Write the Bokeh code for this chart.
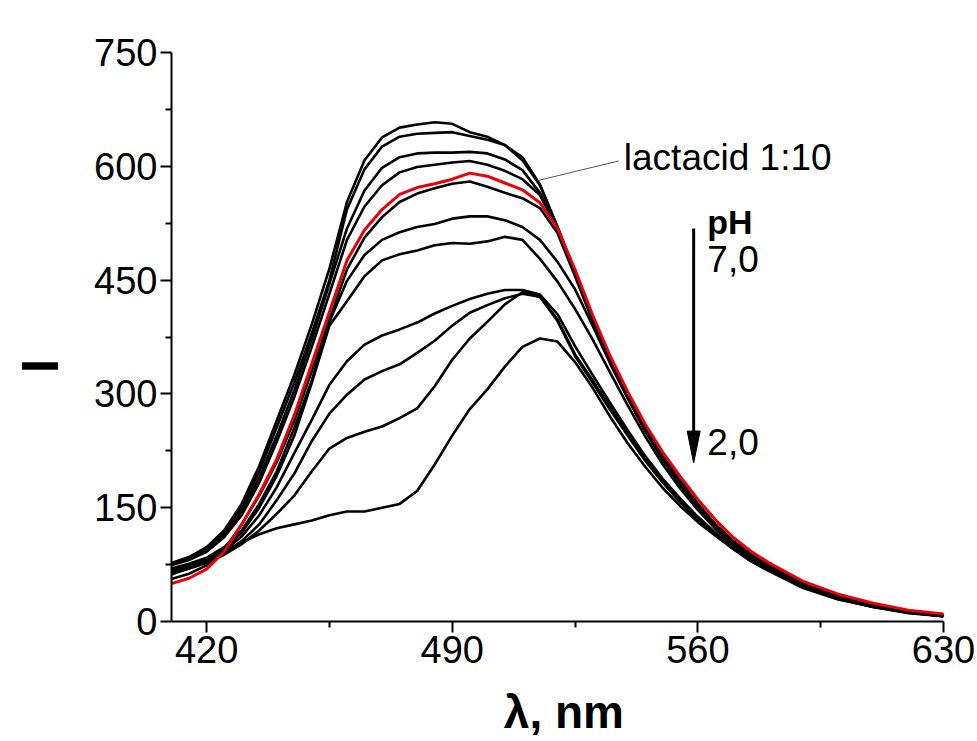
from bokeh.plotting import figure
from bokeh.models import FixedTicker, Label, Range1d
from bokeh.embed import file_html
from bokeh.resources import INLINE

# ---- data ----
wavelength = [410, 415, 420, 425, 430, 435, 440, 445, 450, 455, 460, 465, 470, 475, 480,
              485, 490, 495, 500, 505, 510, 515, 520, 525, 530, 535, 540, 545, 550, 555,
              560, 565, 570, 575, 580, 590, 600, 610, 620, 630]

curve_1 = [77, 85, 98, 120, 155, 205, 265, 325, 392, 465, 553, 608, 638, 651, 655,
           658, 656, 645, 639, 628, 612, 576, 520, 460, 400, 345, 298, 254, 217, 185,
           155, 128, 106, 89, 74, 50, 34, 22, 14, 9]
curve_2 = [76, 84, 96, 117, 150, 198, 256, 315, 380, 450, 543, 596, 626, 639, 643,
           644, 645, 640, 635, 628, 608, 575, 520, 460, 400, 345, 298, 254, 217, 185,
           155, 128, 106, 89, 74, 50, 34, 22, 14, 9]
curve_3 = [75, 82, 94, 114, 145, 190, 245, 305, 372, 445, 518, 568, 598, 612, 617,
           618, 618, 619, 617, 609, 595, 565, 518, 459, 399, 344, 297, 253, 216, 184,
           154, 127, 105, 88, 73, 49, 33, 22, 14, 9]
curve_4 = [74, 81, 92, 111, 140, 183, 237, 296, 362, 432, 503, 547, 575, 592, 599,
           602, 605, 607, 602, 594, 583, 562, 517, 458, 398, 343, 296, 252, 215, 183,
           153, 126, 104, 87, 72, 49, 33, 21, 13, 9]
curve_lactacid = [50, 57, 69, 92, 128, 168, 214, 272, 340, 408, 476, 516, 543, 563, 572,
                  577, 583, 591, 587, 578, 569, 552, 518, 464, 404, 350, 303, 260, 223, 191,
                  161, 134, 111, 93, 78, 53, 36, 24, 15, 10]
curve_6 = [56, 63, 74, 95, 128, 166, 210, 265, 330, 398, 464, 506, 533, 553, 564,
           571, 577, 580, 573, 565, 558, 545, 512, 455, 396, 342, 295, 252, 214, 182,
           152, 126, 104, 87, 73, 49, 33, 21, 13, 8]
curve_7 = [70, 76, 84, 98, 120, 155, 198, 255, 318, 395, 449, 483, 503, 513, 520,
           524, 531, 534, 534, 529, 520, 503, 474, 438, 390, 340, 294, 251, 213, 180,
           151, 125, 103, 86, 72, 48, 32, 21, 13, 8]
curve_8 = [68, 74, 82, 96, 117, 150, 192, 245, 315, 390, 422, 455, 476, 484, 489,
           496, 499, 498, 501, 507, 503, 478, 448, 412, 372, 328, 285, 244, 207, 175,
           147, 122, 101, 84, 71, 47, 31, 20, 12, 8]
curve_9 = [66, 72, 80, 93, 112, 140, 177, 222, 266, 312, 343, 365, 377, 385, 394,
           406, 416, 425, 432, 437, 437, 431, 405, 363, 325, 288, 252, 218, 188, 162,
           138, 117, 98, 82, 69, 46, 30, 20, 12, 7]
curve_10 = [64, 70, 78, 90, 106, 128, 160, 195, 238, 274, 299, 319, 330, 339, 354,
            370, 390, 407, 417, 426, 432, 428, 398, 352, 318, 282, 247, 214, 185, 159,
            136, 115, 97, 81, 68, 46, 30, 19, 12, 7]
curve_11 = [64, 70, 77, 88, 102, 120, 142, 166, 198, 228, 242, 250, 257, 268, 281,
            310, 345, 373, 395, 418, 434, 428, 396, 350, 315, 279, 245, 212, 183, 157,
            134, 114, 96, 80, 68, 45, 30, 19, 12, 7]
curve_12 = [62, 70, 80, 92, 104, 115, 123, 128, 133, 140, 145, 145, 150, 155, 172,
            207, 245, 280, 306, 336, 362, 373, 369, 342, 308, 270, 235, 204, 176, 152,
            131, 113, 96, 80, 67, 44, 29, 19, 11, 7]

black_curves = [curve_1, curve_2, curve_3, curve_4, curve_6, curve_7, curve_8,
                curve_9, curve_10, curve_11, curve_12]

x_ticks = [420, 490, 560, 630]
x_minor = [455, 525, 595]
y_ticks = [0, 150, 300, 450, 600, 750]
y_minor = [75, 225, 375, 525, 675]

FONT = "Liberation Sans"
NBSP = "\u00a0"

p = figure(width=975, height=741, x_range=Range1d(410, 630), y_range=Range1d(0, 750),
           output_backend="svg", toolbar_location=None,
           min_border_left=171, min_border_right=32, min_border_top=52, min_border_bottom=120)
p.xgrid.visible = False
p.ygrid.visible = False
p.outline_line_color = None
p.background_fill_color = "white"
p.border_fill_color = "white"

for ax in (p.xaxis[0], p.yaxis[0]):
    ax.axis_line_width = 2
    ax.axis_line_color = "black"
    ax.major_tick_line_width = 2
    ax.minor_tick_line_width = 2
    ax.major_tick_line_color = "black"
    ax.minor_tick_line_color = "black"
    ax.major_tick_out = 11
    ax.major_tick_in = 0
    ax.minor_tick_out = 6
    ax.minor_tick_in = 0
    ax.major_label_text_font = FONT
    ax.major_label_text_font_size = "38px"
    ax.major_label_text_color = "black"
    ax.major_label_standoff = 3

p.xaxis.ticker = FixedTicker(ticks=x_ticks, minor_ticks=x_minor)
p.yaxis.ticker = FixedTicker(ticks=y_ticks, minor_ticks=y_minor)

p.xaxis.axis_label = NBSP + "λ, nm"
p.xaxis.axis_label_text_font = FONT
p.xaxis.axis_label_text_font_size = "46px"
p.xaxis.axis_label_text_font_style = "bold"
p.xaxis.axis_label_text_color = "black"
p.xaxis.axis_label_standoff = 20

p.yaxis.axis_label = "I" + NBSP * 4
p.yaxis.axis_label_text_font = FONT
p.yaxis.axis_label_text_font_size = "52px"
p.yaxis.axis_label_text_font_style = "bold"
p.yaxis.axis_label_text_color = "black"
p.yaxis.axis_label_standoff = 22

for ys in black_curves:
    p.line(wavelength, ys, line_color="black", line_width=2.6, line_join="round")
p.line(wavelength, curve_lactacid, line_color="#e8000b", line_width=3, line_join="round")

# leader line + annotation
LEAD_X0, LEAD_Y0, LEAD_X1, LEAD_Y1 = 514.2, 581, 537.4, 607
p.segment(x0=[LEAD_X0], y0=[LEAD_Y0], x1=[LEAD_X1], y1=[LEAD_Y1], line_color="#555555", line_width=1)
p.add_layout(Label(x=538.9, y=611, text="lactacid 1:10", text_align="left",
                   text_baseline="alphabetic", text_font=FONT, text_font_size="37px",
                   text_color="black"))

# pH arrow
ARROW_X, ARROW_TOP, ARROW_TIP = 558.8, 518, 209
HEAD_LEN, HEAD_HW = 42, 1.85
p.segment(x0=[ARROW_X], y0=[ARROW_TOP], x1=[ARROW_X], y1=[ARROW_TIP + HEAD_LEN * 0.5],
          line_color="black", line_width=3)
p.patch(x=[ARROW_X - HEAD_HW, ARROW_X + HEAD_HW, ARROW_X],
        y=[ARROW_TIP + HEAD_LEN, ARROW_TIP + HEAD_LEN, ARROW_TIP],
        fill_color="black", line_color="black", line_width=1)

TXT_X = 562.7
p.add_layout(Label(x=TXT_X, y=527, text="pH", text_align="left", text_baseline="alphabetic",
                   text_font=FONT, text_font_size="34px", text_font_style="bold",
                   text_color="black"))
p.add_layout(Label(x=TXT_X, y=478, text="7,0", text_align="left", text_baseline="alphabetic",
                   text_font=FONT, text_font_size="37px", text_color="black"))
p.add_layout(Label(x=TXT_X, y=237, text="2,0", text_align="left", text_baseline="alphabetic",
                   text_font=FONT, text_font_size="37px", text_color="black"))

open("out.html", "w").write(file_html(p, INLINE))
